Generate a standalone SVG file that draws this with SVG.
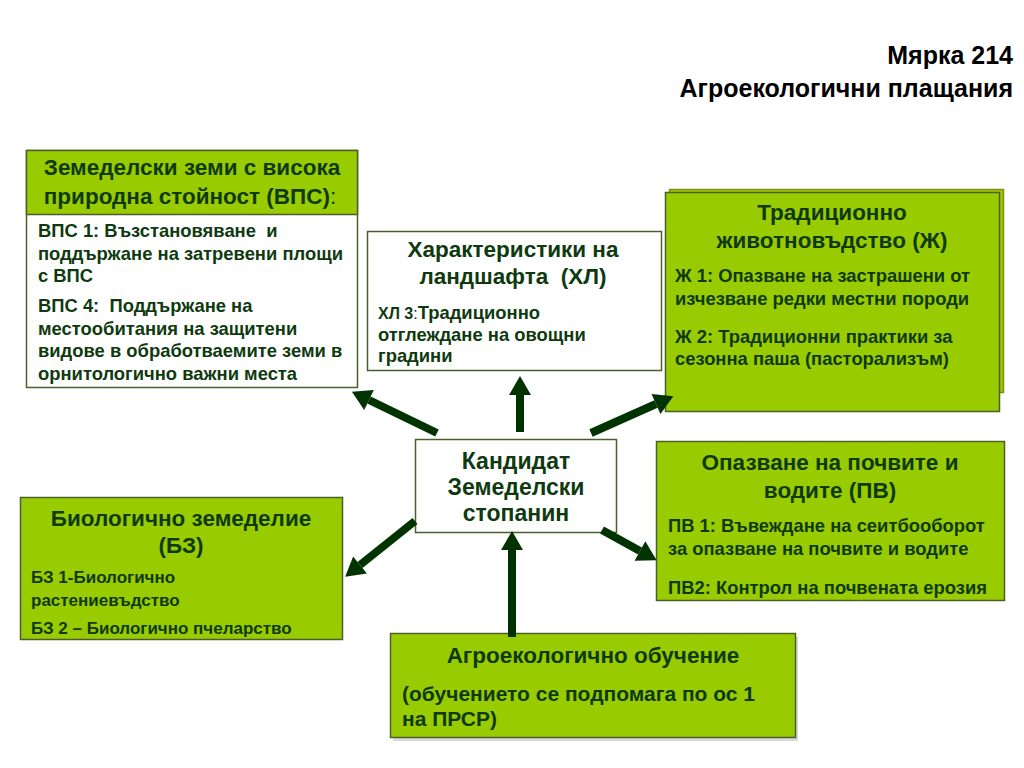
<svg xmlns="http://www.w3.org/2000/svg" width="1024" height="768" viewBox="0 0 1024 768">
<defs>
<style>
text{font-family:"Liberation Sans",Arial,sans-serif;font-weight:bold;fill:#0f3a0f;white-space:pre}
.title{fill:#000;font-size:25px}
.hd{font-size:22.5px;text-anchor:middle}
.bd{font-size:18.4px}
.sm{font-size:17px}
.green{fill:#99cc00;stroke:#4a5f2a;stroke-width:1.5}
.white{fill:#fff;stroke:#4a5f2a;stroke-width:1.5}
.arr{stroke:#003300;stroke-width:8;fill:none;marker-end:url(#ah)}
.n{font-weight:normal}
</style>
<marker id="ah" markerUnits="userSpaceOnUse" viewBox="0 -12 20 24" refX="0" refY="0" markerWidth="20" markerHeight="24" orient="auto" overflow="visible">
<path d="M0,-11 L19,0 L0,11 Z" fill="#003300"/>
</marker>
</defs>
<rect width="1024" height="768" fill="#fff"/>

<g id="title">
<text class="title" x="1013" y="64" text-anchor="end">Мярка 214</text>
<text class="title" x="1013" y="97" text-anchor="end">Агроекологични плащания</text>
</g>

<g id="vps">
<rect class="white" x="26.5" y="150.5" width="331" height="237"/>
<rect class="green" x="26.5" y="150.5" width="331" height="64"/>
<text class="hd" x="192" y="175">Земеделски земи с висока</text>
<text class="hd" x="190" y="204">природна стойност (ВПС)<tspan class="n">:</tspan></text>
<text class="bd" x="38" y="237">ВПС 1: Възстановяване  и</text>
<text class="bd" x="38" y="260">поддържане на затревени площи</text>
<text class="bd" x="38" y="282">с ВПС</text>
<text class="bd" x="38" y="312">ВПС 4:  Поддържане на</text>
<text class="bd" x="38" y="335">местообитания на защитени</text>
<text class="bd" x="38" y="357">видове в обработваемите земи в</text>
<text class="bd" x="38" y="380">орнитологично важни места</text>
</g>

<g id="hl">
<rect class="white" x="367.5" y="231.5" width="294" height="139"/>
<text class="hd" x="513" y="257">Характеристики на</text>
<text class="hd" x="513" y="284">ландшафта  (ХЛ)</text>
<text class="bd" x="378" y="319"><tspan style="font-size:16px">ХЛ 3</tspan><tspan class="n" style="font-size:16px">:</tspan>Традиционно</text>
<text class="bd" x="378" y="341">отглеждане на овощни</text>
<text class="bd" x="378" y="362">градини</text>
</g>

<g id="zh">
<rect x="669.5" y="189.5" width="334" height="203" fill="#99cc00" stroke="#8a8a10" stroke-width="1.5"/>
<rect class="green" x="665.5" y="192.5" width="334" height="219"/>
<text class="hd" x="832" y="220">Традиционно</text>
<text class="hd" x="832" y="248">животновъдство (Ж)</text>
<text class="bd" x="675" y="282">Ж 1: Опазване на застрашени от</text>
<text class="bd" x="675" y="305">изчезване редки местни породи</text>
<text class="bd" x="675" y="343">Ж 2: Традиционни практики за</text>
<text class="bd" x="675" y="365">сезонна паша (пасторализъм)</text>
</g>

<g id="pv">
<rect class="green" x="656.5" y="441.5" width="348" height="159"/>
<text class="hd" x="830" y="470">Опазване на почвите и</text>
<text class="hd" x="830" y="498">водите (ПВ)</text>
<text class="bd" x="668" y="532">ПВ 1: Въвеждане на сеитбооборот</text>
<text class="bd" x="668" y="555">за опазване на почвите и водите</text>
<text class="bd" x="668" y="594">ПВ2: Контрол на почвената ерозия</text>
</g>

<g id="bz">
<rect class="green" x="20.5" y="497.5" width="322" height="142"/>
<text class="hd" x="181" y="526">Биологично земеделие</text>
<text class="hd" x="181" y="553">(БЗ)</text>
<text class="sm" x="31" y="583">БЗ 1-Биологично</text>
<text class="sm" x="31" y="606">растениевъдство</text>
<text class="sm" x="31" y="634">БЗ 2 – Биологично пчеларство</text>
</g>

<g id="ob">
<rect x="393" y="637" width="405" height="104" fill="#d9d9d9"/>
<rect class="green" x="390.5" y="633.5" width="405" height="104"/>
<text class="hd" x="593" y="663">Агроекологично обучение</text>
<text class="bd" x="402" y="701" style="font-size:21px">(обучението се подпомага по ос 1</text>
<text class="bd" x="402" y="726" style="font-size:21px">на ПРСР)</text>
</g>

<g id="center">
<rect class="white" x="415.5" y="439.5" width="201" height="93"/>
<text class="hd" x="516" y="469" style="font-size:23px">Кандидат</text>
<text class="hd" x="516" y="495" style="font-size:23px">Земеделски</text>
<text class="hd" x="516" y="521" style="font-size:23px">стопанин</text>
</g>

<g id="connectors">
<line class="arr" x1="437" y1="433" x2="369" y2="400"/>
<line class="arr" x1="520" y1="432" x2="520" y2="395"/>
<line class="arr" x1="591" y1="433" x2="656" y2="404"/>
<line class="arr" x1="415" y1="521" x2="360" y2="565"/>
<line class="arr" x1="602" y1="530" x2="640" y2="551"/>
<line class="arr" x1="512" y1="637" x2="512" y2="550"/>
</g>
</svg>
